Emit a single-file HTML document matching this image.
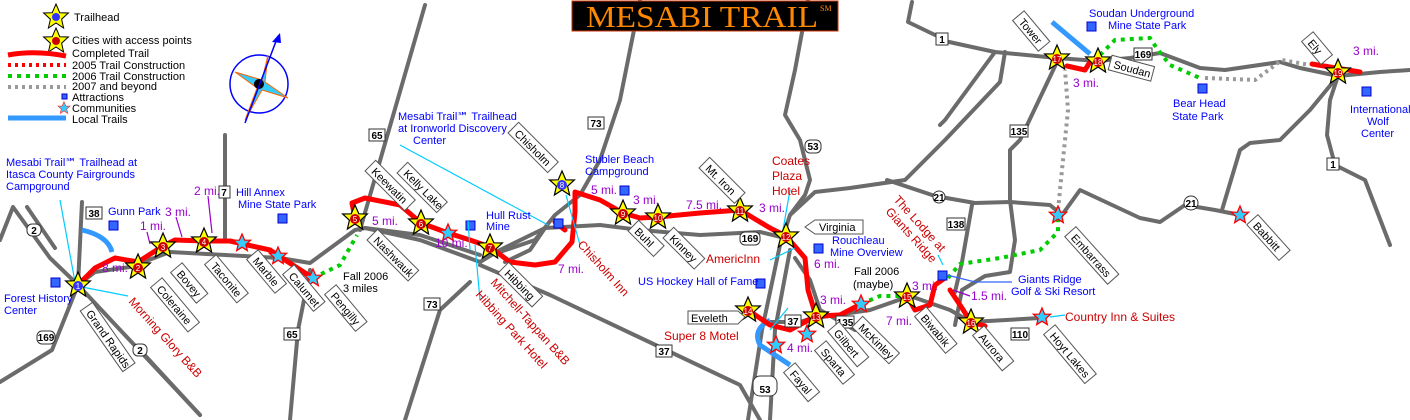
<!DOCTYPE html>
<html><head><meta charset="utf-8"><style>
html,body{margin:0;padding:0;background:#fff;width:1410px;height:420px;overflow:hidden}
svg{display:block;font-family:"Liberation Sans",sans-serif}
.rd{fill:none;stroke:#6b6b6b;stroke-width:4;stroke-linejoin:round;stroke-linecap:round}
.tr{fill:none;stroke:#f00;stroke-width:5;stroke-linejoin:round;stroke-linecap:round}
.gr{fill:none;stroke:#0c0;stroke-width:4;stroke-dasharray:4 5}
.gy{fill:none;stroke:#999;stroke-width:4;stroke-dasharray:3 4}
.lt{fill:none;stroke:#39f;stroke-width:5}
.b{fill:#00f;font-size:11px}
.r{fill:#c00;font-size:12px}
.p{fill:#90c;font-size:12px}
.k{fill:#000;font-size:11px}
.tb rect{fill:#fff;stroke:#555;stroke-width:1}
.tb text{font-size:11px;fill:#000}
.sq{fill:#36f;stroke:#00c}
.hw rect,.hw circle{fill:#fff;stroke:#333}
.hw text{font-size:10px;font-weight:bold;fill:#000;text-anchor:middle}
</style></head><body>
<svg width="1410" height="420" viewBox="0 0 1410 420">
<defs>
<polygon id="st" points="0,-13 3.8,-4.2 12.4,-4 5.6,2.2 7.6,11 0,6 -7.6,11 -5.6,2.2 -12.4,-4 -3.8,-4.2"/>
<polygon id="cs" points="0,-9 2.6,-2.9 8.6,-2.8 3.9,1.5 5.3,7.6 0,4.2 -5.3,7.6 -3.9,1.5 -8.6,-2.8 -2.6,-2.9"/>
</defs>
<!-- roads -->
<path class="rd" d="M0,240 L13,207 L50,258 L78,285 L200,415"/>
<path class="rd" d="M27,207 L55,248"/>
<path class="rd" d="M78,285 L52,350 L0,382"/>
<path class="rd" d="M82,202 L78,285"/>
<path class="rd" d="M140,350 L200,415"/>
<path class="rd" d="M78,285 L95,272 L130,267 L170,252 L280,258 L310,263 L355,230 L365,228 L420,235 L480,255"/>
<path class="rd" d="M365,228 L420,240 L480,262 L500,250 L545,228 L600,225 L640,230 L700,235 L760,232 L785,238"/>
<path class="rd" d="M225,135 L225,240"/>
<path class="rd" d="M360,230 L425,5"/>
<path class="rd" d="M310,270 L298,330 L290,420"/>
<path class="rd" d="M470,282 L440,310 L405,420"/>
<path class="rd" d="M480,265 L550,295 L740,385 L760,420"/>
<path class="rd" d="M640,0 L620,100 L600,160 L580,195 L555,215 L535,240 L500,252"/>
<path class="rd" d="M545,228 L530,250 L505,262"/>
<path class="rd" d="M808,0 L795,70 L785,115 L800,140 L810,180 L805,195 L790,215 L780,245 L762,330 L748,420"/>
<path class="rd" d="M790,250 L775,330 L770,420"/>
<path class="rd" d="M790,215 L815,192 L850,188 L905,180 L945,140 L1000,82 L1005,52"/>
<path class="rd" d="M887,180 L935,196 L975,203 L1010,202 L1050,205 L1062,215 L1080,190 L1140,218 L1160,222 L1185,205 L1215,210 L1240,215"/>
<path class="rd" d="M940,40 L995,52 L1057,58 L1098,61 L1130,58 L1160,53 L1200,68 L1225,70 L1280,62 L1300,68 L1338,76 L1380,72 L1410,70"/>
<path class="rd" d="M995,52 L945,120 L940,125"/>
<path class="rd" d="M1057,62 L1020,140 L1010,150 L1010,200 L1015,240 L1010,272 L985,276 L962,290 L955,325"/>
<path class="rd" d="M972,205 L962,262 L955,292"/>
<path class="rd" d="M790,325 L816,318 L870,310 L910,296 L950,310 L971,322 L1040,318"/>
<path class="rd" d="M770,322 L800,322 L812,318"/>
<path class="rd" d="M1338,76 L1330,100 L1327,135 L1335,165 L1365,180 L1390,245"/>
<path class="rd" d="M1338,76 L1310,110 L1280,140 L1250,143 L1240,150 L1222,210"/>
<path class="rd" d="M912,2 L908,22 L935,35"/>
<path class="rd" d="M855,330 L820,310 L810,280 L795,258"/>
<!-- local trails -->
<path class="lt" d="M82,230 Q108,236 112,252"/>
<path class="lt" d="M1052,22 L1090,54"/>
<path class="lt" d="M770,320 Q752,330 760,345 L790,365"/>
<!-- trails -->
<path class="tr" d="M78,285 L95,268 L115,258 L138,262 L163,246 L175,240 L204,241 L230,241 L270,250 L285,260 L313,278"/>
<path class="gr" d="M313,278 L340,265 L357,235"/>
<path class="tr" d="M355,218 L352,203 L365,198 L400,205 L421,223 L448,233 L470,240 L490,247 L510,262 L535,265 L555,262 L572,242 L575,212 L575,192 L600,200 L623,213 L640,218 L658,217 L700,213 L740,210 L770,228 L786,236 L805,258 L808,290 L816,316 L840,315 L861,304"/>
<path class="tr" d="M748,310 L770,325 L790,330 L816,316"/>
<path class="tr" d="M555,222 L565,230"/>
<path class="gr" d="M861,304 L880,296 L907,296"/>
<path class="tr" d="M907,296 L915,310 L930,305 L935,285 L945,278"/>
<path class="tr" d="M950,290 L960,305 L971,322 L985,326"/>
<path class="gr" d="M948,278 L960,264 L1000,258 L1040,250 L1058,232 L1058,218"/>
<path class="gy" d="M1058,210 L1068,110 L1065,70"/>
<path class="tr" d="M1067,66 L1085,70 L1090,62"/>
<path class="gr" d="M1100,55 L1115,40 L1150,38 L1158,50 L1170,65 L1200,78"/>
<path class="gy" d="M1205,78 L1255,80 L1282,60 L1310,65"/>
<path class="tr" d="M1312,64 L1360,72"/>
<!-- title -->
<rect x="572" y="1" width="266" height="30" fill="#000" stroke="#c30"/>
<text x="586" y="27" font-family="Liberation Serif,serif" font-size="31" fill="#f80" textLength="232" lengthAdjust="spacingAndGlyphs">MESABI TRAIL</text>
<text x="820" y="11" font-family="Liberation Serif,serif" font-size="8" fill="#f80">SM</text>
<!-- legend -->
<g fill="#ff0" stroke="#000"><use href="#st" x="56" y="17"/><use href="#st" x="56" y="41"/></g>
<circle cx="56" cy="17" r="4" fill="#33f"/><circle cx="56" cy="41" r="4" fill="#c00"/>
<path d="M8,55 Q35,50 66,56" stroke="#f00" stroke-width="5" fill="none"/>
<path d="M8,65 L66,65" class="gy" style="stroke:#f00"/>
<path d="M8,76 L66,76" class="gr"/>
<path d="M8,87 L66,87" class="gy"/>
<rect x="62" y="94" width="5" height="5" class="sq"/>
<use href="#cs" x="64" y="108" fill="#3cf" stroke="#f33" style="transform:scale(0.7);transform-origin:64px 108px"/>
<path d="M8,118 L66,118" class="lt"/>
<g class="k" font-size="11"><text x="74" y="21">Trailhead</text><text x="72" y="44">Cities with access points</text><text x="72" y="57">Completed Trail</text><text x="72" y="69">2005 Trail Construction</text><text x="72" y="80">2006 Trail Construction</text><text x="72" y="90">2007 and beyond</text><text x="72" y="101">Attractions</text><text x="72" y="112">Communities</text><text x="72" y="123">Local Trails</text></g>
<!-- compass -->
<circle cx="259" cy="84" r="29" fill="none" stroke="#00f" stroke-width="1.5"/>
<path d="M268,55 L262,80 L235,72 L257,88 L245,120 L262,90 L288,98 L265,82 Z" fill="#3cf" stroke="#f60"/>
<circle cx="259" cy="84" r="5" fill="#000"/>
<path d="M245,123 L278,36" stroke="#00f" stroke-width="1.5"/><path d="M280,33 L272,42 L281,43Z" fill="#00f"/>
<!-- attractions -->
<g class="sq"><rect x="51" y="278" width="9" height="9"/><rect x="109" y="221" width="9" height="9"/><rect x="278" y="214" width="9" height="9"/><rect x="466" y="221" width="9" height="9"/><rect x="554" y="219" width="9" height="9"/><rect x="620" y="186" width="9" height="9"/><rect x="814" y="244" width="9" height="9"/><rect x="756" y="279" width="9" height="9"/><rect x="938" y="271" width="9" height="9"/><rect x="1087" y="22" width="9" height="9"/><rect x="1198" y="84" width="9" height="9"/><rect x="1362" y="87" width="9" height="9"/></g>
<!-- connector lines -->
<g stroke="#0cf" stroke-width="1.2" fill="none"><path d="M60,200 L75,282"/><path d="M82,287 L128,296"/><path d="M475,245 L480,300"/><path d="M468,220 L470,250"/><path d="M400,145 L548,225"/><path d="M566,195 L580,245"/><path d="M790,190 L783,230"/><path d="M795,248 L770,260"/><path d="M770,330 L788,308"/><path d="M947,275 L975,282 L1012,282" stroke="#36f"/><path d="M1050,317 L1065,315"/><path d="M943,265 L938,255"/></g>
<g stroke="#90c" stroke-width="1.2" fill="none"><path d="M147,232 L150,244"/><path d="M176,217 L182,237"/><path d="M208,196 L212,233"/><path d="M953,290 L970,296"/></g>
<!-- community stars -->
<g fill="#3cf" stroke="#f00" stroke-width="1.3"><use href="#cs" x="242" y="243"/><use href="#cs" x="278" y="256"/><use href="#cs" x="313" y="278"/><use href="#cs" x="448" y="233"/><use href="#cs" x="861" y="304"/><use href="#cs" x="807" y="334"/><use href="#cs" x="776" y="345"/><use href="#cs" x="1058" y="215"/><use href="#cs" x="1240" y="215"/><use href="#cs" x="1042" y="317"/></g>
<!-- city stars -->
<g fill="#ff0" stroke="#000" stroke-width="1.2"><use href="#st" x="78" y="285"/><use href="#st" x="138" y="267"/><use href="#st" x="163" y="246"/><use href="#st" x="204" y="241"/><use href="#st" x="355" y="218"/><use href="#st" x="421" y="223"/><use href="#st" x="490" y="247"/><use href="#st" x="562" y="184"/><use href="#st" x="623" y="213"/><use href="#st" x="658" y="217"/><use href="#st" x="740" y="210"/><use href="#st" x="786" y="236"/><use href="#st" x="816" y="316"/><use href="#st" x="748" y="310"/><use href="#st" x="907" y="296"/><use href="#st" x="971" y="322"/><use href="#st" x="1057" y="58"/><use href="#st" x="1098" y="61"/><use href="#st" x="1338" y="72"/></g>
<g font-size="8" fill="#fff" text-anchor="middle">
<circle cx="78" cy="286" r="5" fill="#33f"/><text x="78" y="289">1</text>
<circle cx="562" cy="185" r="5" fill="#33f"/><text x="562" y="188">8</text>
<g fill="#c00"><circle cx="138" cy="268" r="5"/><circle cx="163" cy="247" r="5"/><circle cx="204" cy="242" r="5"/><circle cx="355" cy="219" r="5"/><circle cx="421" cy="224" r="5"/><circle cx="490" cy="248" r="5"/><circle cx="623" cy="214" r="5"/><circle cx="658" cy="218" r="5"/><circle cx="740" cy="211" r="5"/><circle cx="786" cy="237" r="5"/><circle cx="816" cy="317" r="5"/><circle cx="748" cy="311" r="5"/><circle cx="907" cy="297" r="5"/><circle cx="971" cy="323" r="5"/><circle cx="1057" cy="59" r="5"/><circle cx="1098" cy="62" r="5"/><circle cx="1338" cy="73" r="5"/></g>
<text x="138" y="271">2</text><text x="163" y="250">3</text><text x="204" y="245">4</text><text x="355" y="222">5</text><text x="421" y="227">6</text><text x="490" y="251">7</text><text x="623" y="217">9</text><text x="658" y="221">10</text><text x="740" y="214">11</text><text x="786" y="240">12</text><text x="816" y="320">13</text><text x="748" y="314">14</text><text x="907" y="300">15</text><text x="971" y="326">16</text><text x="1057" y="62">17</text><text x="1098" y="65">18</text><text x="1338" y="76">19</text></g>
<!-- highway shields -->
<g class="hw">
<rect x="86" y="207" width="16" height="12"/><text x="94" y="217">38</text>
<rect x="219" y="186" width="11" height="12"/><text x="224" y="196">7</text>
<rect x="369" y="129" width="16" height="12"/><text x="377" y="139">65</text>
<rect x="284" y="328" width="16" height="12"/><text x="292" y="338">65</text>
<rect x="424" y="298" width="16" height="12"/><text x="432" y="308">73</text>
<rect x="588" y="117" width="16" height="12"/><text x="596" y="127">73</text>
<rect x="656" y="345" width="16" height="12"/><text x="664" y="355">37</text>
<rect x="785" y="315" width="16" height="12"/><text x="793" y="325">37</text>
<rect x="836" y="316" width="18" height="12"/><text x="845" y="326">135</text>
<rect x="1010" y="125" width="18" height="12"/><text x="1019" y="135">135</text>
<rect x="947" y="218" width="18" height="12"/><text x="956" y="228">138</text>
<rect x="1011" y="328" width="18" height="12"/><text x="1020" y="338">110</text>
<rect x="1134" y="48" width="18" height="12"/><text x="1143" y="58">169</text>
<rect x="936" y="33" width="12" height="12"/><text x="942" y="43">1</text>
<rect x="1327" y="158" width="12" height="12"/><text x="1333" y="168">1</text>
<rect x="27" y="224" width="14" height="12" rx="5"/><text x="34" y="234">2</text>
<rect x="133" y="344" width="14" height="12" rx="5"/><text x="140" y="354">2</text>
<rect x="37" y="331" width="18" height="13" rx="5"/><text x="46" y="341">169</text>
<rect x="740" y="232" width="20" height="13" rx="5"/><text x="750" y="242">169</text>
<rect x="805" y="140" width="16" height="13" rx="5"/><text x="813" y="150">53</text>
<circle cx="1191" cy="203" r="7"/><text x="1191" y="207">21</text>
<circle cx="939" cy="197" r="6"/><text x="939" y="201">21</text>
<rect x="753" y="376" width="24" height="20" rx="7"/><text x="765" y="393" font-size="16">53</text>
</g>
<!-- town tags -->
<g class="tb">
<g transform="translate(86,307) rotate(55)"><rect x="0" y="-8" width="74" height="15"/><text x="5" y="4">Grand Rapids</text></g>
<g transform="translate(156,283) rotate(50)"><rect x="0" y="-8" width="58" height="15"/><text x="5" y="4">Coleraine</text></g>
<g transform="translate(176,268) rotate(50)"><rect x="0" y="-8" width="40" height="15"/><text x="5" y="4">Bovey</text></g>
<g transform="translate(210,260) rotate(50)"><rect x="0" y="-8" width="50" height="15"/><text x="5" y="4">Taconite</text></g>
<g transform="translate(252,255) rotate(50)"><rect x="0" y="-8" width="44" height="15"/><text x="5" y="4">Marble</text></g>
<g transform="translate(288,270) rotate(50)"><rect x="0" y="-8" width="48" height="15"/><text x="5" y="4">Calumet</text></g>
<g transform="translate(330,290) rotate(50)"><rect x="0" y="-8" width="48" height="15"/><text x="5" y="4">Pengilly</text></g>
<g transform="translate(372,235) rotate(45)"><rect x="0" y="-8" width="58" height="15"/><text x="5" y="4">Nashwauk</text></g>
<g transform="translate(370,166) rotate(45)"><rect x="0" y="-8" width="56" height="15"/><text x="5" y="4">Keewatin</text></g>
<g transform="translate(402,168) rotate(45)"><rect x="0" y="-8" width="56" height="15"/><text x="5" y="4">Kelly Lake</text></g>
<g transform="translate(503,268) rotate(45)"><rect x="0" y="-8" width="48" height="15"/><text x="5" y="4">Hibbing</text></g>
<g transform="translate(513,128) rotate(45)"><rect x="0" y="-8" width="56" height="15"/><text x="5" y="4">Chisholm</text></g>
<g transform="translate(633,226) rotate(45)"><rect x="0" y="-8" width="36" height="15"/><text x="5" y="4">Buhl</text></g>
<g transform="translate(668,233) rotate(45)"><rect x="0" y="-8" width="44" height="15"/><text x="5" y="4">Kinney</text></g>
<g transform="translate(704,163) rotate(45)"><rect x="0" y="-8" width="50" height="15"/><text x="5" y="4">Mt. Iron</text></g>
<g transform="translate(833,327) rotate(50)"><rect x="0" y="-8" width="46" height="15"/><text x="5" y="4">Gilbert</text></g>
<g transform="translate(820,346) rotate(50)"><rect x="0" y="-8" width="44" height="15"/><text x="5" y="4">Sparta</text></g>
<g transform="translate(789,368) rotate(50)"><rect x="0" y="-8" width="38" height="15"/><text x="5" y="4">Fayal</text></g>
<g transform="translate(857,322) rotate(45)"><rect x="0" y="-8" width="52" height="15"/><text x="5" y="4">McKinley</text></g>
<g transform="translate(920,312) rotate(50)"><rect x="0" y="-8" width="48" height="15"/><text x="5" y="4">Biwabik</text></g>
<g transform="translate(978,331) rotate(50)"><rect x="0" y="-8" width="46" height="15"/><text x="5" y="4">Aurora</text></g>
<g transform="translate(1049,330) rotate(50)"><rect x="0" y="-8" width="64" height="15"/><text x="5" y="4">Hoyt Lakes</text></g>
<g transform="translate(1070,232) rotate(48)"><rect x="0" y="-8" width="64" height="15"/><text x="5" y="4">Embarrass</text></g>
<g transform="translate(1252,220) rotate(48)"><rect x="0" y="-8" width="48" height="15"/><text x="5" y="4">Babbitt</text></g>
<g transform="translate(1018,16) rotate(50)"><rect x="0" y="-8" width="40" height="15"/><text x="5" y="4">Tower</text></g>
<g transform="translate(1307,37) rotate(50)"><rect x="0" y="-8" width="30" height="15"/><text x="5" y="4">Ely</text></g>
<g transform="translate(1110,63) rotate(15)"><rect x="0" y="-8" width="44" height="15"/><text x="4" y="4">Soudan</text></g>
<path d="M805,227 L815,220 L863,220 L863,234 L815,234Z" fill="#fff" stroke="#555"/><text x="819" y="231">Virginia</text>
<path d="M688,311 L738,311 L745,317 L738,324 L688,324Z" fill="#fff" stroke="#555"/><text x="691" y="322">Eveleth</text>
</g>
<!-- blue labels -->
<g class="b">
<text x="6" y="166">Mesabi Trail℠ Trailhead at</text><text x="6" y="178">Itasca County Fairgrounds</text><text x="6" y="190">Campground</text>
<text x="4" y="302">Forest History</text><text x="4" y="314">Center</text>
<text x="108" y="215">Gunn Park</text>
<text x="236" y="196">Hill Annex</text><text x="238" y="208">Mine State Park</text>
<text x="398" y="120">Mesabi Trail℠ Trailhead</text><text x="398" y="132">at Ironworld Discovery</text><text x="413" y="144">Center</text>
<text x="486" y="219">Hull Rust</text><text x="486" y="230">Mine</text>
<text x="585" y="163">Stubler Beach</text><text x="585" y="175">Campground</text>
<text x="638" y="285">US Hockey Hall of Fame</text>
<text x="832" y="244">Rouchleau</text><text x="830" y="256">Mine Overview</text>
<text x="1018" y="283">Giants Ridge</text><text x="1011" y="295">Golf &amp; Ski Resort</text>
<text x="1089" y="17">Soudan Underground</text><text x="1108" y="29">Mine State Park</text>
<text x="1173" y="107">Bear Head</text><text x="1172" y="120">State Park</text>
<text x="1350" y="113">International</text><text x="1367" y="125">Wolf</text><text x="1361" y="137">Center</text>
</g>
<!-- red labels -->
<g class="r">
<text transform="translate(128,302) rotate(48)">Morning Glory B&amp;B</text>
<text transform="translate(490,283) rotate(48)">Mitchell-Tappan B&amp;B</text>
<text transform="translate(475,295) rotate(48)">Hibbing Park Hotel</text>
<text transform="translate(577,245) rotate(48)">Chisholm Inn</text>
<text x="772" y="165">Coates</text><text x="772" y="180">Plaza</text><text x="772" y="195">Hotel</text>
<text x="706" y="263">AmericInn</text>
<text x="664" y="340">Super 8 Motel</text>
<text transform="translate(893,200) rotate(48)">The Lodge at</text>
<text transform="translate(885,212) rotate(48)">Giants Ridge</text>
<text x="1065" y="321">Country Inn &amp; Suites</text>
</g>
<!-- mileage -->
<g class="p">
<text x="102" y="272">8 mi.</text><text x="140" y="230">1 mi.</text><text x="165" y="216">3 mi.</text><text x="194" y="195">2 mi.</text>
<text x="372" y="225">5 mi.</text><text x="435" y="247">10 mi.</text><text x="558" y="273">7 mi.</text>
<text x="591" y="194">5 mi.</text><text x="633" y="204">3 mi.</text><text x="686" y="209">7.5 mi.</text><text x="759" y="212">3 mi.</text>
<text x="814" y="268">6 mi.</text><text x="820" y="304">3 mi.</text><text x="787" y="352">4 mi.</text>
<text x="886" y="325">7 mi.</text><text x="912" y="290">3 mi.</text><text x="971" y="300">1.5 mi.</text>
<text x="1073" y="87">3 mi.</text><text x="1353" y="55">3 mi.</text>
</g>
<g class="k"><text x="343" y="280">Fall 2006</text><text x="343" y="292">3 miles</text><text x="854" y="275">Fall 2006</text><text x="853" y="288">(maybe)</text></g>
</svg>
</body></html>
